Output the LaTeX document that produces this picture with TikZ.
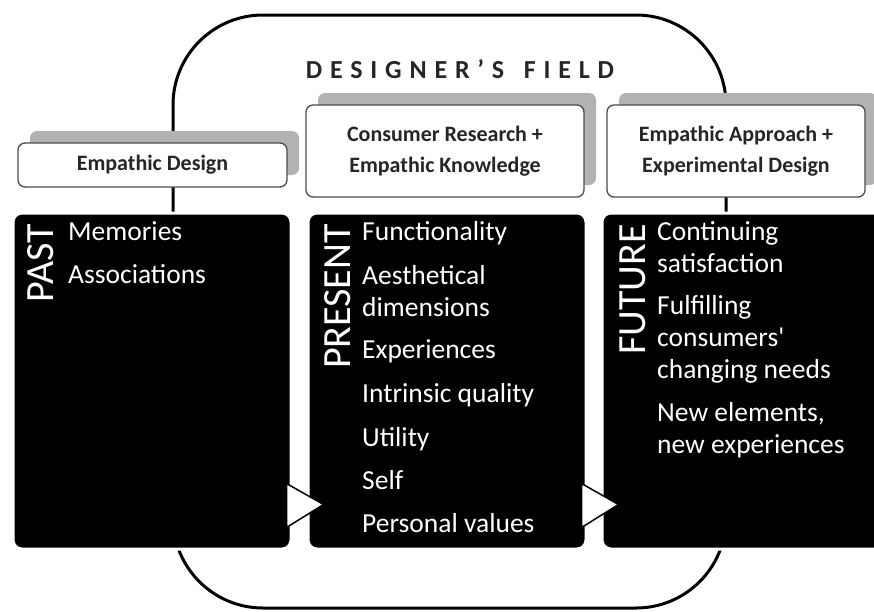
\documentclass[tikz,border=0pt]{standalone}
\usepackage{fontspec}
\setmainfont{Carlito}
\usetikzlibrary{calc,shadows}

\tikzset{
	headbox/.style={draw=black!70, fill=white, line width=1.3pt, rounded corners=7pt,
		drop shadow={shadow xshift=12pt, shadow yshift=12pt, fill=black!30, opacity=1},
		font=\bfseries\fontsize{22}{31}\selectfont, text=black!85, align=center, inner sep=0pt},
	timebox/.style={fill=black, draw=white, line width=3pt, rounded corners=9pt, inner sep=0pt},
	timelabel/.style={font=\fontsize{40}{40}\selectfont, text=white, rotate=90, anchor=base east, inner sep=0pt},
	itemtext/.style={font=\fontsize{27.5}{32}\selectfont, text=white, anchor=base west, align=left, inner sep=0pt},
	turn/.style={fill=white, draw=black, line width=1.5pt, line join=miter}
}

\begin{document}
\begin{tikzpicture}[x=1pt, y=-1pt]
		%%%%% START %%%%%
		\clip (0, 0) rectangle (874, 611);
		\useasboundingbox (0, 0) rectangle (874, 611);
		
		\draw[line width=3pt, rounded corners=90pt] (173, 15) rectangle (726, 608);
		\node[font=\bfseries\fontsize{26}{30}\selectfont\addfontfeature{LetterSpace=30}, text=black!85, anchor=base] (title) at (460, 78) {DESIGNER'S\hspace{6pt} FIELD};
		
		\node[headbox, minimum width=269, minimum height=44] (empd) at (152.5, 165) {Empathic Design};
		\node[headbox, minimum width=278, minimum height=92] (crek) at (445, 151) {Consumer Research +\\Empathic Knowledge};
		\node[headbox, minimum width=258, minimum height=92] (eaed) at (736, 151) {Empathic Approach +\\Experimental Design};
		
		\node[timebox, minimum width=278, minimum height=336] (past) at (152, 381) {};
		\node[timebox, minimum width=278, minimum height=336] (present) at (447, 381) {};
		\node[timebox, minimum width=282, minimum height=336] (future) at (743, 381) {};
		
		\draw[turn] ($(past.south east)+(-6, -67)$) -- ($(past.south east)+(31, -46)$) -- ($(past.south east)+(-6, -23)$) -- cycle;
		\draw[turn] ($(present.south east)+(-6, -67)$) -- ($(present.south east)+(31, -46)$) -- ($(present.south east)+(-6, -23)$) -- cycle;
		
		\node[timelabel] (pastlbl) at (53, 224) {PAST};
		\node[timelabel] (presentlbl) at (350, 224) {PRESENT};
		\node[timelabel] (futurelbl) at (645, 224) {FUTURE};
		
		% multi-line nodes sit on the baseline of their last line
		\node[itemtext] (memo) at (68, 240) {Memories};
		\node[itemtext] (asso) at (68, 283) {Associations};
		
		\node[itemtext] (func) at (362, 240) {Functionality};
		\node[itemtext] (aest) at (362, 316) {Aesthetical\\dimensions};
		\node[itemtext] (expe) at (362, 358) {Experiences};
		\node[itemtext] (intr) at (362, 402) {Intrinsic quality};
		\node[itemtext] (util) at (362, 446) {Utility};
		\node[itemtext] (self) at (362, 489) {Self};
		\node[itemtext] (pval) at (362, 532) {Personal values};
		
		\node[itemtext] (cont) at (657, 272) {Continuing\\satisfaction};
		\node[itemtext] (fulf) at (657, 378) {Fulfilling\\consumers\textquotesingle\\changing needs};
		\node[itemtext] (newe) at (657, 453) {New elements,\\new experiences};
		
		%%%%% END %%%%%
\end{tikzpicture}
\end{document}
